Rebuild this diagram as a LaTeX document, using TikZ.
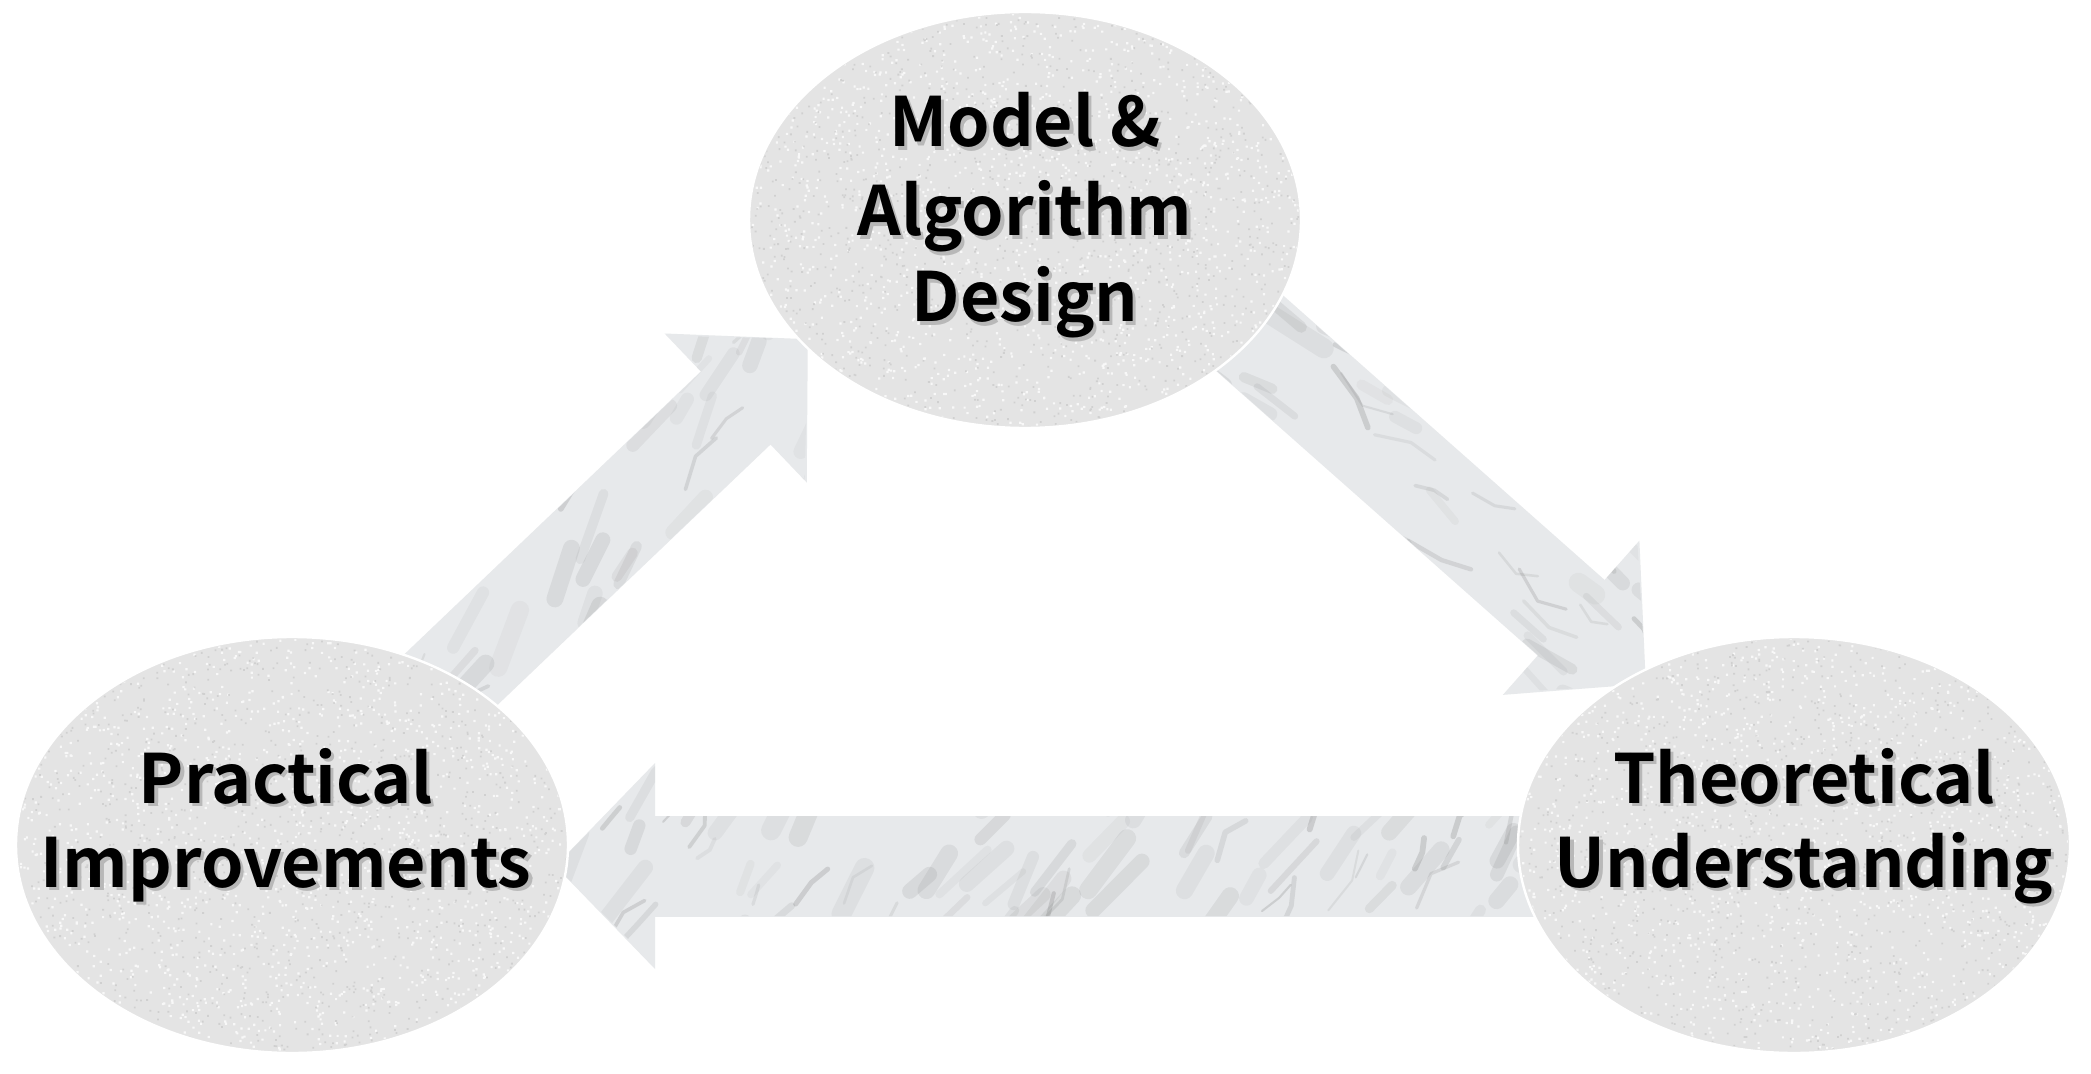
\documentclass[tikz,border=0pt]{standalone}
\usepackage{fontspec}
\newfontfamily\lblfont{Noto Sans CJK SC}[UprightFont=* Bold]
\usetikzlibrary{arrows.meta,shapes.geometric,calc}
\definecolor{marble}{HTML}{E7E9EB}
\definecolor{stone}{HTML}{E4E4E4}
\definecolor{speck}{HTML}{C4C4C4}
\newcommand{\shadowed}[1]{\makebox[0pt][l]{\hspace{1.6pt}\raisebox{-1.6pt}{\textcolor{black!28}{#1}}}#1}
\newcommand{\marbleveins}[5]{% xmin ymin xmax ymax angle
  % soft clouds
  \foreach \k in {1,...,90}{
    \pgfmathsetmacro\px{#1+rnd*(#3-#1)}
    \pgfmathsetmacro\py{#2+rnd*(#4-#2)}
    \pgfmathsetmacro\len{20+rnd*50}
    \pgfmathsetmacro\aa{#5+rand*15}
    \pgfmathsetmacro\lw{3+rnd*7}
    \pgfmathsetmacro\op{0.05+rnd*0.09}
    \draw[black!55,line width=\lw pt,opacity=\op,line cap=round]
      (\px,\py) -- ++(\aa:\len);
  }
  % fine veins
  \foreach \k in {1,...,45}{
    \pgfmathsetmacro\px{#1+rnd*(#3-#1)}
    \pgfmathsetmacro\py{#2+rnd*(#4-#2)}
    \pgfmathsetmacro\len{10+rnd*30}
    \pgfmathsetmacro\aa{#5+rand*25}
    \pgfmathsetmacro\ab{#5+rand*35}
    \pgfmathsetmacro\lw{1+rnd*2}
    \pgfmathsetmacro\op{0.08+rnd*0.14}
    \draw[black!60,line width=\lw pt,opacity=\op,line cap=round,line join=round]
      (\px,\py) -- ++(\aa:\len) -- ++(\ab:0.8*\len);
  }}
\newcommand{\speckle}[1]{% node name
  \begin{scope}
    \clip (#1.center) ellipse[x radius=137pt,y radius=103pt];
    \fill[white,opacity=0.75] \foreach \k in {1,...,1800}{
      ([shift={(rand*140pt,rand*106pt)}]#1.center) rectangle ++(1.1pt,1.1pt)};
    \fill[speck,opacity=0.6] \foreach \k in {1,...,1300}{
      ([shift={(rand*140pt,rand*106pt)}]#1.center) rectangle ++(0.9pt,0.9pt)};
  \end{scope}}
\begin{document}
\begin{tikzpicture}[x=0.5pt,y=-0.5pt,
  bubble/.style={ellipse,minimum width=276pt,minimum height=208pt,inner sep=0pt,outer sep=0pt,
    fill=stone,draw=white,line width=1.2pt},
  blockarrow/.style={draw=marble,line width=50.5pt,line cap=butt,
    -{Triangle[width=100pt 0 0,length=50pt 0 0]}},
  lbl/.style={font=\lblfont\fontsize{34pt}{34pt}\selectfont,anchor=base,inner sep=0pt}
]
\pgfmathsetseed{11}
\fill[white] (0,0) rectangle (2091,1074);
\useasboundingbox (0,0) rectangle (2091,1074);
% arrow end points
\coordinate (a1s) at (287,836);
\coordinate (a1t) at (808,339);
\coordinate (a2s) at (1107,207);
\coordinate (a2t) at (1646,684);
\coordinate (a3s) at (1800,866);
\coordinate (a3t) at (555,866);
% arrows
\draw[blockarrow] (a1s) -- (a1t);
\draw[blockarrow] (a2s) -- (a2t);
\draw[blockarrow] (a3s) -- (a3t);
% marble veins, clipped to each arrow outline
\foreach \s/\t/\ang/\xa/\ya/\xb/\yb in {a1s/a1t/-58/280/330/815/845, a2s/a2t/36/1100/200/1655/695, a3s/a3t/-55/550/765/1805/970}{
  \begin{scope}
    \coordinate (hb) at ($(\t)!50pt!(\s)$);
    \clip ($(\s)!25pt!90:(\t)$) -- ($(hb)!25pt!-90:(\s)$) -- ($(hb)!50pt!-90:(\s)$) -- (\t)
      -- ($(hb)!50pt!90:(\s)$) -- ($(hb)!25pt!90:(\s)$) -- ($(\s)!25pt!-90:(\t)$) -- cycle;
    \marbleveins{\xa}{\ya}{\xb}{\yb}{\ang}
  \end{scope}
}
% ellipses
\node[bubble] (mad) at (1025,220) {};
\node[bubble] (pi) at (292,845) {};
\node[bubble] (tu) at (1794,845) {};
\speckle{mad}
\speckle{pi}
\speckle{tu}
% labels
\node[lbl] (mad1) at (1025,147) {\shadowed{Model \&}};
\node[lbl] (mad2) at (1025,236) {\shadowed{Algorithm}};
\node[lbl] (mad3) at (1025,322) {\shadowed{Design}};
\node[lbl] (pi1) at (286,803) {\shadowed{Practical}};
\node[lbl] (pi2) at (286,887) {\shadowed{Improvements}};
\node[lbl] (tu1) at (1804,803) {\shadowed{Theoretical}};
\node[lbl] (tu2) at (1804,887) {\shadowed{Understanding}};
\end{tikzpicture}
\end{document}
